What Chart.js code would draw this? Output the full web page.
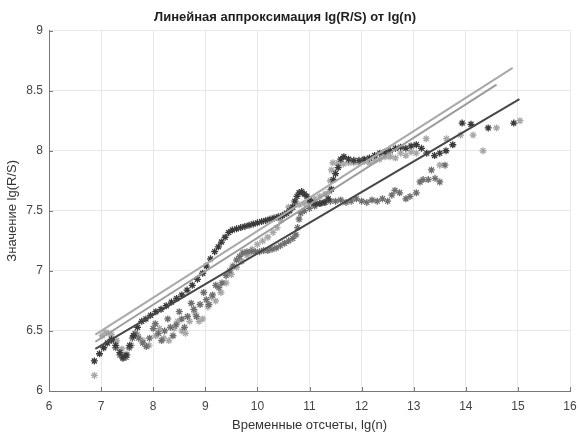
<!DOCTYPE html>
<html>
<head>
<meta charset="utf-8">
<script src="https://cdn.jsdelivr.net/npm/chart.js@4/dist/chart.umd.min.js"></script>
<style>
  html, body { margin: 0; padding: 0; background: #fff; }
</style>
</head>
<body>
<canvas id="chart" width="580" height="434"></canvas>
<script>
// dark series (black asterisks)
const darkX = [6.87, 6.97, 7.05, 7.12, 7.2, 7.28, 7.36, 7.42, 7.48, 7.55,
  7.62, 7.7, 7.78, 7.86, 7.95, 8.05, 8.15, 8.25, 8.35, 8.45,
  8.55, 8.65, 8.75, 8.85, 8.95, 9.02, 9.1, 9.18, 9.25, 9.31,
  9.38, 9.45, 9.52, 9.6, 9.68, 9.76, 9.84, 9.92, 10.0, 10.08,
  10.16, 10.24, 10.32, 10.4, 10.48, 10.56, 10.62, 10.68, 10.72, 10.76,
  10.8, 10.85, 10.9, 10.95, 11.0, 11.05, 11.12, 11.2, 11.28, 11.36,
  11.42, 11.46, 11.5, 11.55, 11.6, 11.66, 11.75, 11.85, 11.95, 12.05,
  12.15, 12.25, 12.35, 12.45, 12.55, 12.65, 12.75, 12.85, 12.95, 13.05,
  13.15, 13.25, 13.4, 13.5, 13.62, 13.75, 13.93, 14.1, 14.43, 14.92];
const darkY = [6.25, 6.31, 6.36, 6.40, 6.43, 6.38, 6.32, 6.28, 6.30, 6.38,
  6.46, 6.53, 6.58, 6.60, 6.63, 6.66, 6.68, 6.71, 6.74, 6.77,
  6.80, 6.84, 6.88, 6.93, 6.98, 7.04, 7.10, 7.16, 7.20, 7.24,
  7.28, 7.32, 7.34, 7.35, 7.36, 7.37, 7.38, 7.39, 7.40, 7.41,
  7.42, 7.43, 7.44, 7.45, 7.46, 7.48, 7.50, 7.53, 7.58, 7.62,
  7.65, 7.66, 7.64, 7.62, 7.59, 7.57, 7.56, 7.56, 7.57, 7.60,
  7.68, 7.76, 7.81, 7.86, 7.93, 7.95, 7.93, 7.92, 7.92, 7.93,
  7.94, 7.96, 7.98, 7.99, 8.00, 8.02, 8.03, 8.02, 8.04, 8.05,
  8.02, 7.98, 7.96, 7.98, 8.00, 8.05, 8.23, 8.22, 8.19, 8.23];

// medium gray series
const midX = [7.2, 7.28, 7.36, 7.42, 7.48, 7.54, 7.6, 7.65, 7.72, 7.8,
  7.87, 7.93, 8.0, 8.04, 8.1, 8.16, 8.22, 8.28, 8.33, 8.38,
  8.44, 8.5, 8.55, 8.6, 8.66, 8.73, 8.78, 8.83, 8.9, 8.97,
  9.02, 9.07, 9.14, 9.2, 9.26, 9.32, 9.4, 9.47, 9.53, 9.6,
  9.66, 9.72, 9.8, 9.88, 9.96, 10.04, 10.12, 10.2, 10.28, 10.36,
  10.44, 10.52, 10.6, 10.68, 10.74, 10.77, 10.8, 10.83, 10.9, 11.0,
  11.1, 11.2, 11.3, 11.4, 11.5, 11.6, 11.7, 11.8, 11.9, 12.0,
  12.1, 12.2, 12.3, 12.4, 12.5, 12.58, 12.64, 12.73, 12.85, 12.93,
  13.05, 13.12, 13.18, 13.28, 13.34, 13.41, 13.5, 13.6];
const midY = [6.42, 6.36, 6.30, 6.27, 6.28, 6.36, 6.44, 6.48, 6.44, 6.40,
  6.37, 6.44, 6.52, 6.56, 6.48, 6.42, 6.50, 6.60, 6.53, 6.46,
  6.55, 6.66, 6.60, 6.53, 6.62, 6.73, 6.68, 6.62, 6.72, 6.82,
  6.76, 6.72, 6.80, 6.88, 6.86, 6.90, 6.96, 7.00, 7.04, 7.09,
  7.12, 7.15, 7.16, 7.16, 7.16, 7.16, 7.17, 7.17, 7.18, 7.19,
  7.21, 7.23, 7.25, 7.27, 7.30, 7.36, 7.43, 7.48, 7.50, 7.52,
  7.54, 7.56, 7.57, 7.58, 7.58, 7.59, 7.57, 7.58, 7.60, 7.58,
  7.57, 7.59, 7.58, 7.60, 7.58, 7.63, 7.67, 7.65, 7.60, 7.62,
  7.65, 7.74, 7.76, 7.76, 7.84, 7.77, 7.74, 7.88];

// light gray series
const lightX = [6.87, 7.02, 7.08, 7.14, 7.2, 7.3, 7.4, 7.5, 7.58, 7.7,
  7.8, 7.92, 8.05, 8.12, 8.2, 8.3, 8.4, 8.47, 8.55, 8.62,
  8.7, 8.8, 8.88, 8.95, 9.05, 9.12, 9.2, 9.3, 9.4, 9.5,
  9.6, 9.7, 9.8, 9.9, 10.0, 10.1, 10.2, 10.3, 10.38, 10.45,
  10.52, 10.6, 10.7, 10.8, 10.9, 11.0, 11.1, 11.2, 11.3, 11.38,
  11.4, 11.42, 11.45, 11.55, 11.65, 11.75, 11.85, 11.95, 12.05, 12.15,
  12.25, 12.35, 12.45, 12.55, 12.65, 12.75, 12.85, 12.95, 13.05, 13.24,
  13.5, 13.63, 13.9, 14.14, 14.33, 14.59, 15.04];
const lightY = [6.13, 6.46, 6.49, 6.48, 6.47, 6.42, 6.35, 6.30, 6.38, 6.47,
  6.42, 6.38, 6.46, 6.52, 6.44, 6.42, 6.52, 6.58, 6.50, 6.48,
  6.58, 6.65, 6.58, 6.60, 6.70, 6.78, 6.75, 6.82, 6.90, 6.97,
  7.03, 7.08, 7.13, 7.18, 7.22, 7.25, 7.28, 7.32, 7.36, 7.42,
  7.47, 7.53, 7.55, 7.55, 7.56, 7.57, 7.60, 7.62, 7.64, 7.66,
  7.75, 7.84, 7.90, 7.90, 7.89, 7.90, 7.90, 7.90, 7.91, 7.90,
  7.92, 7.93, 7.95, 7.95, 7.94, 7.98, 7.96, 7.99, 7.98, 8.10,
  7.88, 8.10, 8.13, 8.13, 8.00, 8.19, 8.25];

// linear fits (end points)
const fitLightX = [6.89, 14.9];
const fitLightY = [6.47, 8.69];
const fitMidX = [6.89, 14.59];
const fitMidY = [6.41, 8.55];
const fitDarkX = [6.89, 15.03];
const fitDarkY = [6.35, 8.43];

const xTicks = [6, 7, 8, 9, 10, 11, 12, 13, 14, 15, 16];
const yTicks = [6, 6.5, 7, 7.5, 8, 8.5, 9];
const yTickLabels = ['6', '6.5', '7', '7.5', '8', '8.5', '9'];

const FONT = '"Liberation Sans", Arial, Helvetica, sans-serif';

const pts = (xs, ys) => xs.map((x, i) => ({ x, y: ys[i] }));

function scatterSet(label, xs, ys, color) {
  return {
    label,
    data: pts(xs, ys),
    showLine: false,
    pointStyle: 'star',
    pointRadius: 3.5,
    pointBorderWidth: 1.3,
    borderColor: color,
    backgroundColor: color,
    order: 2,
  };
}

function fitSet(label, xs, ys, color) {
  return {
    label,
    data: pts(xs, ys),
    showLine: true,
    borderColor: color,
    borderWidth: 2,
    pointRadius: 0,
    fill: false,
    order: 0,
  };
}

// MATLAB-like tick marks drawn inside the axes
const innerTicks = {
  id: 'innerTicks',
  beforeDatasetsDraw(chart) {
    const { ctx, chartArea, scales } = chart;
    ctx.save();
    ctx.strokeStyle = '#777';
    ctx.lineWidth = 1;
    ctx.beginPath();
    xTicks.forEach((v) => {
      const px = Math.round(scales.x.getPixelForValue(v)) + 0.5;
      ctx.moveTo(px, chartArea.bottom);
      ctx.lineTo(px, chartArea.bottom - 4);
    });
    yTicks.forEach((v) => {
      const py = Math.round(scales.y.getPixelForValue(v)) + 0.5;
      ctx.moveTo(chartArea.left, py);
      ctx.lineTo(chartArea.left + 4, py);
    });
    ctx.stroke();
    ctx.restore();
  },
};

new Chart(document.getElementById('chart').getContext('2d'), {
  type: 'scatter',
  data: {
    datasets: [
      fitSet('fit 1', fitLightX, fitLightY, '#a9a9a9'),
      fitSet('fit 2', fitMidX, fitMidY, '#9c9c9c'),
      fitSet('fit 3', fitDarkX, fitDarkY, '#474747'),
      scatterSet('ряд 1', darkX, darkY, '#3a3a3a'),
      scatterSet('ряд 2', midX, midY, '#6f6f6f'),
      scatterSet('ряд 3', lightX, lightY, '#a7a7a7'),
    ],
  },
  options: {
    responsive: false,
    animation: false,
    devicePixelRatio: 1,
    layout: { padding: { left: 0, right: 10, top: 0, bottom: 0 } },
    plugins: {
      legend: { display: false },
      tooltip: { enabled: false },
      title: {
        display: true,
        text: 'Линейная аппроксимация lg(R/S) от lg(n)',
        color: '#1e1e1e',
        font: { family: FONT, size: 13, weight: 'bold' },
        padding: { top: 10, bottom: 5 },
      },
    },
    scales: {
      x: {
        type: 'linear',
        min: 6,
        max: 16,
        afterBuildTicks: (scale) => { scale.ticks = xTicks.map((v) => ({ value: v })); },
        afterFit: (scale) => {
          scale.height = 43;
          scale.paddingRight = 0;
          scale.paddingLeft = 0;
        },
        grid: { color: '#e8e8e8', drawTicks: false },
        border: { color: '#777', width: 1 },
        ticks: { color: '#444', padding: 8, font: { family: FONT, size: 12 } },
        title: {
          display: true,
          text: 'Временные отсчеты, lg(n)',
          color: '#333',
          font: { family: FONT, size: 13 },
          padding: { top: 0, bottom: 1 },
        },
      },
      y: {
        type: 'linear',
        min: 6,
        max: 9,
        afterBuildTicks: (scale) => { scale.ticks = yTicks.map((v) => ({ value: v })); },
        afterFit: (scale) => { scale.width = 49; },
        grid: { color: '#e8e8e8', drawTicks: false },
        border: { color: '#777', width: 1 },
        ticks: {
          color: '#444',
          padding: 6,
          font: { family: FONT, size: 12 },
          callback: (v) => yTickLabels[yTicks.indexOf(v)],
        },
        title: {
          display: true,
          text: 'Значение lg(R/S)',
          color: '#333',
          font: { family: FONT, size: 13 },
          padding: { top: 5, bottom: 0 },
        },
      },
    },
  },
  plugins: [innerTicks],
});
</script>
</body>
</html>
